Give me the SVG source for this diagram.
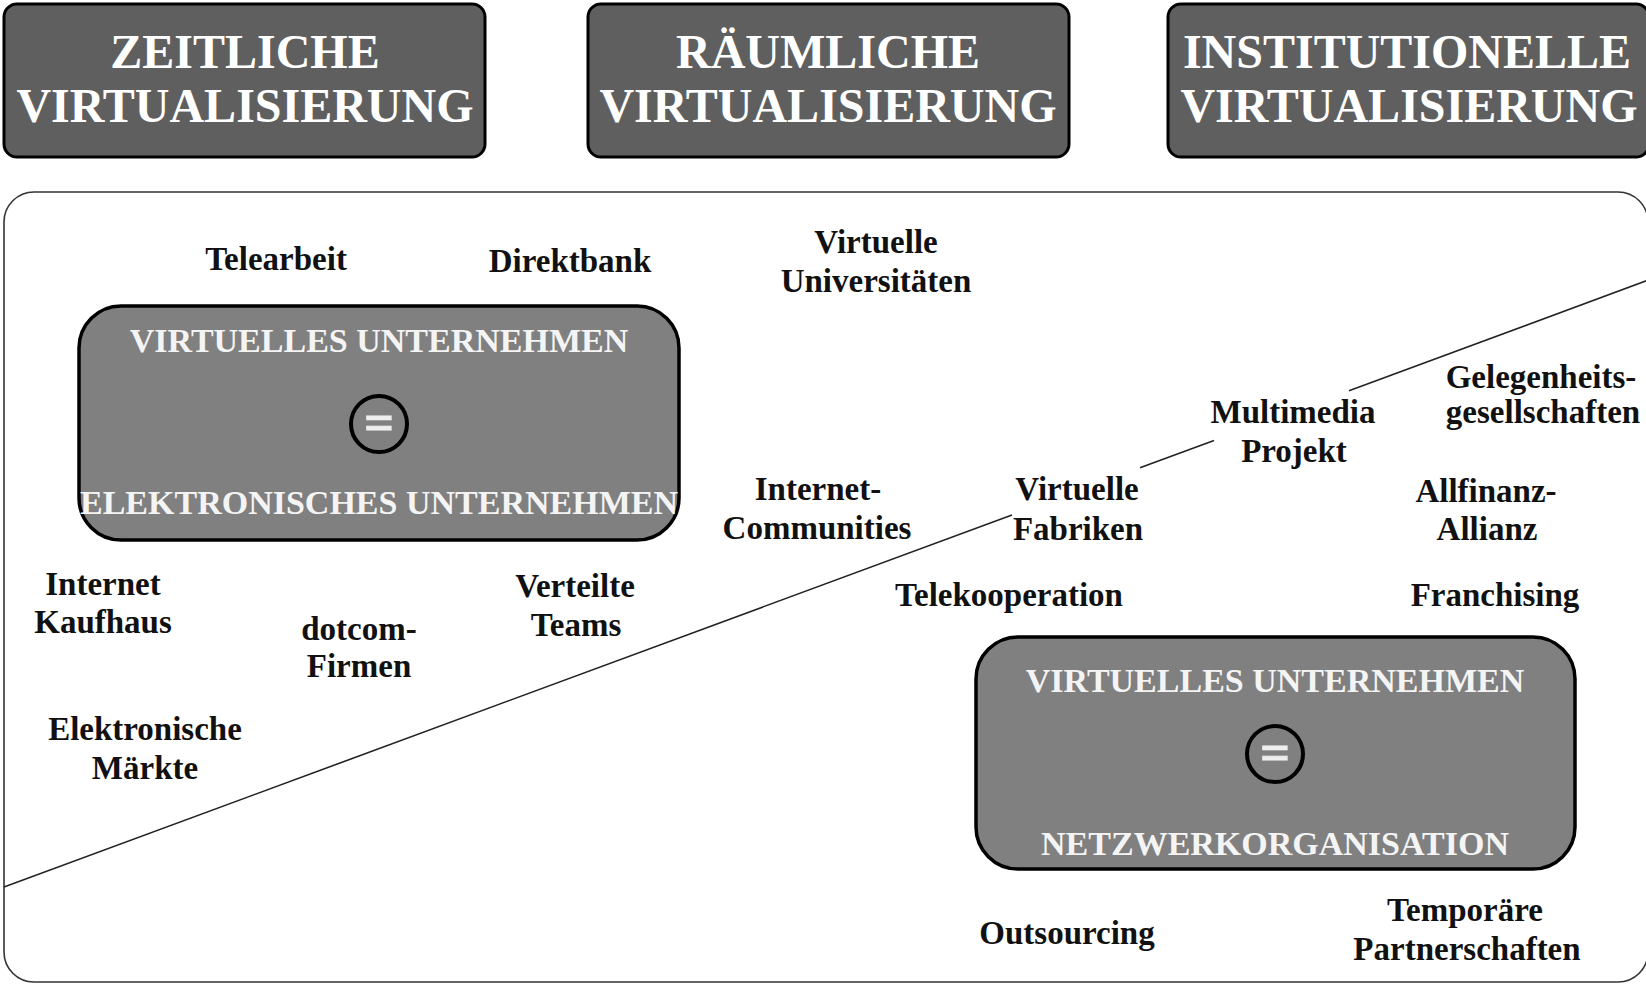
<svg xmlns="http://www.w3.org/2000/svg" width="1646" height="984" viewBox="0 0 1646 984">
  <style>
    .head { fill: #5f5f5f; stroke: #000; stroke-width: 3; }
    .headText { font-family: "Liberation Serif", "Times New Roman", serif; font-weight: bold; font-size: 48px; fill: #fff; text-anchor: middle; }
    .frame { fill: #fff; stroke: #333; stroke-width: 1.6; }
    .core { fill: #808080; stroke: #000; stroke-width: 3.5; }
    .coreText { font-family: "Liberation Serif", "Times New Roman", serif; font-weight: bold; font-size: 34px; fill: #f4f4f4; text-anchor: middle; }
    .eqRing { fill: none; stroke: #000; stroke-width: 4; }
    .eq { font-family: "Liberation Serif", "Times New Roman", serif; font-weight: bold; font-size: 52px; fill: #eee; stroke: #eee; stroke-width: 1.2; text-anchor: middle; }
    .lbl { font-family: "Liberation Serif", "Times New Roman", serif; font-weight: bold; font-size: 33px; fill: #111; text-anchor: middle; }
    .divider { stroke: #222; stroke-width: 1.6; fill: none; }
  </style>

  <rect width="1646" height="984" fill="#fff"/>

  <!-- three virtualisation dimensions -->
  <g id="zeitliche">
    <rect class="head" x="4" y="4" width="481" height="153" rx="13"/>
    <text class="headText" x="245" y="68">ZEITLICHE</text>
    <text class="headText" x="245" y="122">VIRTUALISIERUNG</text>
  </g>
  <g id="raeumliche">
    <rect class="head" x="588" y="4" width="481" height="153" rx="13"/>
    <text class="headText" x="828" y="68">RÄUMLICHE</text>
    <text class="headText" x="828" y="122">VIRTUALISIERUNG</text>
  </g>
  <g id="institutionelle">
    <rect class="head" x="1168" y="4" width="481" height="153" rx="13"/>
    <text class="headText" x="1407" y="68">INSTITUTIONELLE</text>
    <text class="headText" x="1409" y="122">VIRTUALISIERUNG</text>
  </g>

  <!-- outer field -->
  <g id="feld">
    <rect class="frame" x="4" y="192" width="1644" height="790" rx="30"/>
  </g>

  <!-- dividing diagonal, interrupted behind the labels -->
  <g id="connectors">
    <line class="divider" x1="4" y1="887" x2="1012" y2="515"/>
    <line class="divider" x1="1140" y1="467.7" x2="1214" y2="440.5"/>
    <line class="divider" x1="1349" y1="390.8" x2="1647" y2="280.6"/>
  </g>

  <!-- virtual enterprise = electronic enterprise -->
  <g id="elektronisches-unternehmen">
    <rect class="core" x="79" y="306" width="600" height="234" rx="42"/>
    <text class="coreText" x="379" y="352">VIRTUELLES UNTERNEHMEN</text>
    <circle class="eqRing" cx="379" cy="424" r="28"/>
    <text class="eq" x="379" y="440">=</text>
    <text class="coreText" x="379" y="514">ELEKTRONISCHES UNTERNEHMEN</text>
  </g>

  <!-- virtual enterprise = network organisation -->
  <g id="netzwerkorganisation">
    <rect class="core" x="976" y="637" width="599" height="232" rx="42"/>
    <text class="coreText" x="1275" y="692">VIRTUELLES UNTERNEHMEN</text>
    <circle class="eqRing" cx="1275" cy="754" r="28"/>
    <text class="eq" x="1275" y="770">=</text>
    <text class="coreText" x="1275" y="855">NETZWERKORGANISATION</text>
  </g>

  <!-- examples -->
  <g id="telearbeit"><text class="lbl" x="276" y="270">Telearbeit</text></g>
  <g id="direktbank"><text class="lbl" x="570" y="272">Direktbank</text></g>
  <g id="virtuelle-universitaeten">
    <text class="lbl" x="876" y="253">Virtuelle</text>
    <text class="lbl" x="876" y="292">Universitäten</text>
  </g>
  <g id="multimedia-projekt">
    <text class="lbl" x="1293" y="423">Multimedia</text>
    <text class="lbl" x="1294" y="462">Projekt</text>
  </g>
  <g id="gelegenheitsgesellschaften">
    <text class="lbl" x="1541" y="388">Gelegenheits-</text>
    <text class="lbl" x="1543" y="423">gesellschaften</text>
  </g>
  <g id="internet-communities">
    <text class="lbl" x="818" y="500">Internet-</text>
    <text class="lbl" x="817" y="539">Communities</text>
  </g>
  <g id="virtuelle-fabriken">
    <text class="lbl" x="1077" y="500">Virtuelle</text>
    <text class="lbl" x="1078" y="540">Fabriken</text>
  </g>
  <g id="allfinanz-allianz">
    <text class="lbl" x="1486" y="502">Allfinanz-</text>
    <text class="lbl" x="1487" y="540">Allianz</text>
  </g>
  <g id="telekooperation"><text class="lbl" x="1009" y="606">Telekooperation</text></g>
  <g id="franchising"><text class="lbl" x="1495" y="606">Franchising</text></g>
  <g id="internet-kaufhaus">
    <text class="lbl" x="103" y="595">Internet</text>
    <text class="lbl" x="103" y="633">Kaufhaus</text>
  </g>
  <g id="dotcom-firmen">
    <text class="lbl" x="359" y="640">dotcom-</text>
    <text class="lbl" x="359" y="677">Firmen</text>
  </g>
  <g id="verteilte-teams">
    <text class="lbl" x="575" y="597">Verteilte</text>
    <text class="lbl" x="576" y="636">Teams</text>
  </g>
  <g id="elektronische-maerkte">
    <text class="lbl" x="145" y="740">Elektronische</text>
    <text class="lbl" x="145" y="779">Märkte</text>
  </g>
  <g id="outsourcing"><text class="lbl" x="1067" y="944">Outsourcing</text></g>
  <g id="temporaere-partnerschaften">
    <text class="lbl" x="1465" y="921">Temporäre</text>
    <text class="lbl" x="1467" y="960">Partnerschaften</text>
  </g>
</svg>
